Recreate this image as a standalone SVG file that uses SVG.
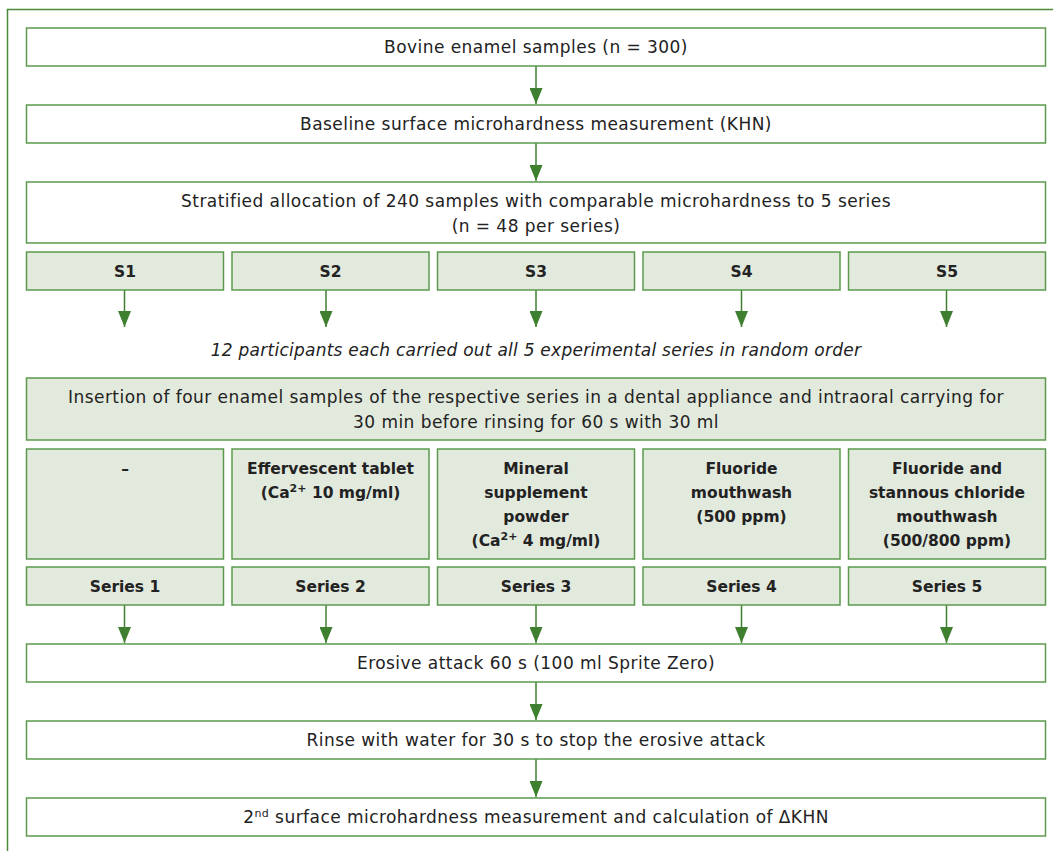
<svg xmlns="http://www.w3.org/2000/svg" width="1053" height="851" viewBox="0 0 1053 851">
<style>
.box{fill:#ffffff;stroke:#5b9a4c;stroke-width:1.5}
.gbox{fill:#e2e9dd;stroke:#5b9a4c;stroke-width:1.5}
.t{font-family:"DejaVu Sans","Liberation Sans",sans-serif;font-size:17px;letter-spacing:0.45px;fill:#222;text-anchor:middle}
.b{font-weight:bold;font-size:15.5px;letter-spacing:0}
.i{font-style:italic;letter-spacing:0.25px}
.sup{font-size:11px}
.conn{stroke:#3f7f30;stroke-width:1.5;fill:none}
</style>
<defs>
<marker id="ah" viewBox="0 0 16 13" refX="16" refY="6.5" markerWidth="16" markerHeight="13" markerUnits="userSpaceOnUse" orient="auto">
<path d="M0,0 L16,6.5 L0,13 z" fill="#3f7f30"/>
</marker>
</defs>
<g id="frame"><path d="M7.5,851 V9.5 H1053" fill="none" stroke="#4a8a3a" stroke-width="1.5"/></g>

<g id="connectors">
<line class="conn" x1="536" y1="66" x2="536" y2="104" marker-end="url(#ah)"/>
<line class="conn" x1="536" y1="143" x2="536" y2="181" marker-end="url(#ah)"/>
<line class="conn" x1="124.5" y1="290" x2="124.5" y2="327" marker-end="url(#ah)"/>
<line class="conn" x1="326" y1="290" x2="326" y2="327" marker-end="url(#ah)"/>
<line class="conn" x1="536" y1="290" x2="536" y2="327" marker-end="url(#ah)"/>
<line class="conn" x1="741.5" y1="290" x2="741.5" y2="327" marker-end="url(#ah)"/>
<line class="conn" x1="946.5" y1="290" x2="946.5" y2="327" marker-end="url(#ah)"/>
<line class="conn" x1="124.5" y1="605" x2="124.5" y2="643" marker-end="url(#ah)"/>
<line class="conn" x1="326" y1="605" x2="326" y2="643" marker-end="url(#ah)"/>
<line class="conn" x1="536" y1="605" x2="536" y2="643" marker-end="url(#ah)"/>
<line class="conn" x1="741.5" y1="605" x2="741.5" y2="643" marker-end="url(#ah)"/>
<line class="conn" x1="946.5" y1="605" x2="946.5" y2="643" marker-end="url(#ah)"/>
<line class="conn" x1="536" y1="682" x2="536" y2="720" marker-end="url(#ah)"/>
<line class="conn" x1="536" y1="759" x2="536" y2="797" marker-end="url(#ah)"/>
</g>

<g id="n-bovine"><rect class="box" x="26.5" y="28" width="1019" height="38"/><text class="t" x="536" y="53">Bovine enamel samples (n = 300)</text></g>
<g id="n-baseline"><rect class="box" x="26.5" y="105" width="1019" height="38"/><text class="t" x="536" y="130">Baseline surface microhardness measurement (KHN)</text></g>
<g id="n-strat"><rect class="box" x="26.5" y="182" width="1019" height="61"/><text class="t" x="536" y="207">Stratified allocation of 240 samples with comparable microhardness to 5 series</text><text class="t" x="536" y="231.5">(n = 48 per series)</text></g>

<g id="n-s1"><rect class="gbox" x="26.5" y="252" width="197" height="38"/><text class="t b" x="125" y="276.5">S1</text></g>
<g id="n-s2"><rect class="gbox" x="232" y="252" width="197" height="38"/><text class="t b" x="330.5" y="276.5">S2</text></g>
<g id="n-s3"><rect class="gbox" x="437.5" y="252" width="197" height="38"/><text class="t b" x="536" y="276.5">S3</text></g>
<g id="n-s4"><rect class="gbox" x="643" y="252" width="197" height="38"/><text class="t b" x="741.5" y="276.5">S4</text></g>
<g id="n-s5"><rect class="gbox" x="848.5" y="252" width="197" height="38"/><text class="t b" x="947" y="276.5">S5</text></g>

<g id="n-participants"><text class="t i" x="536" y="355.5">12 participants each carried out all 5 experimental series in random order</text></g>

<g id="n-insertion"><rect class="gbox" x="26.5" y="378" width="1019" height="62"/><text class="t" x="536" y="403">Insertion of four enamel samples of the respective series in a dental appliance and intraoral carrying for</text><text class="t" x="536" y="427.5">30 min before rinsing for 60 s with 30 ml</text></g>

<g id="n-a1"><rect class="gbox" x="26.5" y="449" width="197" height="110"/><text class="t b" x="125" y="473.5">–</text></g>
<g id="n-a2"><rect class="gbox" x="232" y="449" width="197" height="110"/><text class="t b" x="330.5" y="473.5">Effervescent tablet</text><text class="t b" x="330.5" y="497.5">(Ca<tspan class="sup" dy="-6">2+</tspan><tspan dy="6"> 10 mg/ml)</tspan></text></g>
<g id="n-a3"><rect class="gbox" x="437.5" y="449" width="197" height="110"/><text class="t b" x="536" y="473.5">Mineral</text><text class="t b" x="536" y="497.5">supplement</text><text class="t b" x="536" y="521.5">powder</text><text class="t b" x="536" y="545.5">(Ca<tspan class="sup" dy="-6">2+</tspan><tspan dy="6"> 4 mg/ml)</tspan></text></g>
<g id="n-a4"><rect class="gbox" x="643" y="449" width="197" height="110"/><text class="t b" x="741.5" y="473.5">Fluoride</text><text class="t b" x="741.5" y="497.5">mouthwash</text><text class="t b" x="741.5" y="521.5">(500 ppm)</text></g>
<g id="n-a5"><rect class="gbox" x="848.5" y="449" width="197" height="110"/><text class="t b" x="947" y="473.5">Fluoride and</text><text class="t b" x="947" y="497.5">stannous chloride</text><text class="t b" x="947" y="521.5">mouthwash</text><text class="t b" x="947" y="545.5">(500/800 ppm)</text></g>

<g id="n-series1"><rect class="gbox" x="26.5" y="567" width="197" height="38"/><text class="t b" x="125" y="591.5">Series 1</text></g>
<g id="n-series2"><rect class="gbox" x="232" y="567" width="197" height="38"/><text class="t b" x="330.5" y="591.5">Series 2</text></g>
<g id="n-series3"><rect class="gbox" x="437.5" y="567" width="197" height="38"/><text class="t b" x="536" y="591.5">Series 3</text></g>
<g id="n-series4"><rect class="gbox" x="643" y="567" width="197" height="38"/><text class="t b" x="741.5" y="591.5">Series 4</text></g>
<g id="n-series5"><rect class="gbox" x="848.5" y="567" width="197" height="38"/><text class="t b" x="947" y="591.5">Series 5</text></g>

<g id="n-erosive"><rect class="box" x="26.5" y="644" width="1019" height="38"/><text class="t" x="536" y="669">Erosive attack 60 s (100 ml Sprite Zero)</text></g>
<g id="n-rinse"><rect class="box" x="26.5" y="721" width="1019" height="38"/><text class="t" x="536" y="746">Rinse with water for 30 s to stop the erosive attack</text></g>
<g id="n-second"><rect class="box" x="26.5" y="798" width="1019" height="38"/><text class="t" x="536" y="823">2<tspan class="sup" dy="-6">nd</tspan><tspan dy="6"> surface microhardness measurement and calculation of ΔKHN</tspan></text></g>
</svg>
